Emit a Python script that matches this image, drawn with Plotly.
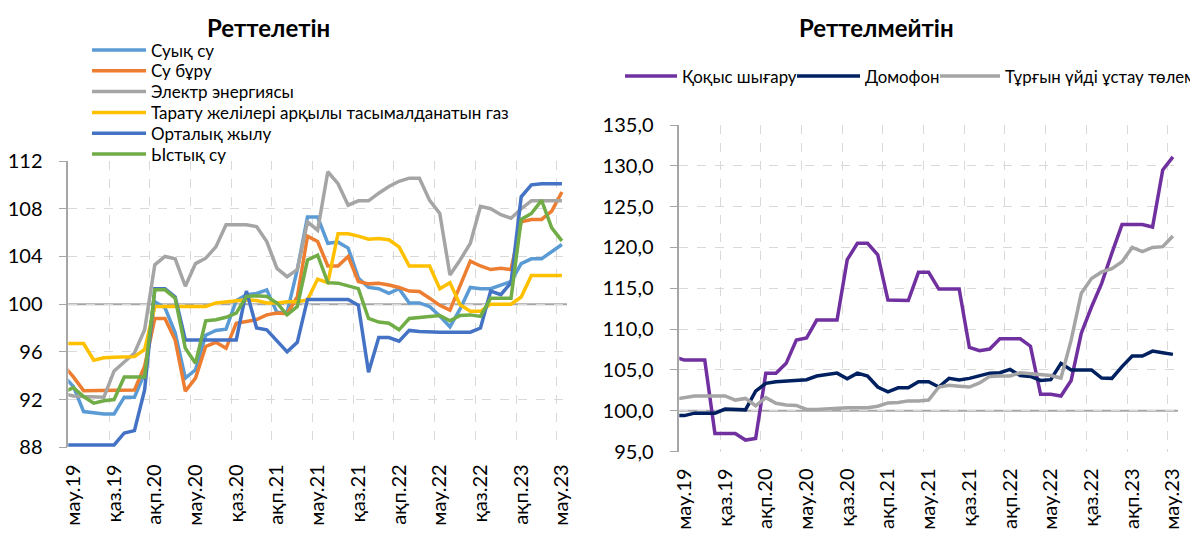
import plotly.graph_objects as go

W, H = 1190, 541
FONT = "Lato, Carlito, Calibri, sans-serif"

# month index: 0 = May 2019 ... 49 = Jun 2023
month_idx = list(range(50))
tick_labels = ["мау.19", "қаз.19", "ақп.20", "мау.20", "қаз.20", "ақп.21", "мау.21",
               "қаз.21", "ақп.22", "мау.22", "қаз.22", "ақп.23", "мау.23"]

# Реттелетін
suyk_su = [94.0, 93.1, 91.0, 90.9, 90.8, 90.8, 92.2, 92.2, 94.2, 100.2,
           99.7, 97.6, 93.8, 94.5, 97.4, 97.8, 97.9, 100.3, 100.8, 100.9,
           101.2, 99.3, 99.3, 102.9, 107.3, 107.3, 105.1, 105.2, 104.7, 102.2,
           101.4, 101.3, 100.9, 101.3, 100.1, 100.1, 99.8, 99.0, 98.1, 99.6,
           101.4, 101.3, 101.3, 101.6, 101.9, 103.4, 103.8, 103.8, 104.4, 105.0]
su_buru = [94.9, 93.9, 92.75, 92.75, 92.8, 92.8, 92.8, 92.8, 94.8, 98.8,
           98.8, 97.0, 92.7, 93.8, 96.45, 96.8, 96.3, 98.4, 98.55, 98.7,
           99.1, 99.25, 99.2, 100.6, 105.7, 105.25, 103.2, 103.2, 104.0, 101.9,
           101.7, 101.75, 101.6, 101.4, 101.1, 101.06, 100.5, 99.9, 99.5, 101.5,
           103.6, 103.2, 102.9, 103.0, 102.9, 106.9, 107.1, 107.1, 107.8, 109.4]
elektr = [92.5, 92.3, 92.25, 92.2, 92.2, 94.4, 95.2, 95.9, 97.85, 103.3,
          104.0, 103.8, 101.5, 103.4, 103.85, 104.8, 106.65, 106.65, 106.65, 106.5,
          105.25, 103.0, 102.3, 102.9, 106.9, 106.2, 111.1, 110.1, 108.3, 108.66,
          108.66, 109.3, 109.86, 110.3, 110.56, 110.56, 108.7, 107.6, 102.45, 103.7,
          105.1, 108.2, 108.0, 107.5, 107.2, 108.0, 108.66, 108.66, 108.66, 108.66]
gaz = [96.7, 96.7, 96.7, 95.3, 95.5, 95.55, 95.6, 95.6, 96.2, 99.8,
       99.8, 99.8, 99.8, 99.8, 99.8, 100.1, 100.2, 100.3, 100.36, 100.3,
       100.1, 100.1, 100.2, 100.2, 100.36, 102.1, 101.8, 105.9, 105.9, 105.7,
       105.45, 105.5, 105.4, 104.8, 103.2, 103.2, 103.2, 101.3, 101.8, 99.95,
       99.4, 99.4, 100.0, 100.0, 100.0, 100.6, 102.4, 102.4, 102.4, 102.4]
ortalyk_zhylu = [88.2, 88.2, 88.2, 88.2, 88.2, 88.2, 89.2, 89.4, 92.8, 101.3,
                 101.3, 100.6, 97.0, 97.0, 97.0, 97.0, 97.0, 97.0, 101.1, 98.0,
                 97.85, 96.9, 96.0, 96.8, 100.4, 100.4, 100.4, 100.4, 100.4, 99.9,
                 94.3, 97.2, 97.2, 96.9, 97.8, 97.7, 97.65, 97.65, 97.65, 97.65,
                 97.65, 98.0, 101.1, 100.8, 101.8, 109.0, 110.0, 110.1, 110.1, 110.1]
ystyk_su = [92.6, 93.0, 92.26, 91.7, 91.9, 92.0, 93.9, 93.9, 93.9, 101.2,
            101.2, 100.5, 96.3, 95.05, 98.6, 98.7, 98.9, 99.25, 100.65, 100.7,
            100.65, 100.1, 99.1, 99.8, 103.7, 104.1, 101.8, 101.76, 101.5, 101.3,
            98.8, 98.5, 98.4, 97.85, 98.8, 98.9, 98.97, 99.05, 98.6, 99.05,
            99.1, 98.97, 100.5, 100.5, 100.5, 107.1, 107.6, 108.7, 106.4, 105.3]

# Реттелмейтін
kokys = [106.6, 106.2, 106.2, 106.2, 97.2, 97.2, 97.2, 96.4, 96.6, 104.6,
         104.6, 105.8, 108.65, 108.9, 111.1, 111.1, 111.1, 118.5, 120.5, 120.5,
         119.1, 113.55, 113.5, 113.5, 116.95, 116.95, 114.9, 114.9, 114.9, 107.75,
         107.35, 107.55, 108.8, 108.8, 108.8, 107.9, 102.0, 102.0, 101.8, 103.7,
         109.5, 112.7, 115.6, 119.3, 122.8, 122.8, 122.8, 122.5, 129.5, 131.1]
domofon = [99.4, 99.4, 99.7, 99.7, 99.7, 100.2, 100.2, 100.1, 102.4, 103.35,
           103.55, 103.6, 103.7, 103.8, 104.25, 104.4, 104.6, 103.9, 104.6, 104.25,
           102.9, 102.3, 102.8, 102.8, 103.55, 103.55, 102.9, 103.96, 103.75, 103.96,
           104.3, 104.6, 104.65, 105.06, 104.3, 104.2, 103.7, 103.8, 105.8, 105.0,
           105.0, 105.0, 104.0, 103.96, 105.4, 106.7, 106.7, 107.3, 107.1, 106.9]
turgyn_ui = [101.4, 101.6, 101.8, 101.8, 101.8, 101.8, 101.3, 101.5, 100.6, 101.6,
             100.9, 100.7, 100.65, 100.15, 100.15, 100.25, 100.35, 100.35, 100.35, 100.35,
             100.55, 100.95, 101.0, 101.2, 101.2, 101.3, 102.9, 103.1, 103.0, 102.9,
             103.4, 104.2, 104.25, 104.25, 104.65, 104.5, 104.45, 104.3, 104.0, 108.65,
             114.4, 116.2, 117.0, 117.4, 118.25, 120.0, 119.5, 120.0, 120.1, 121.4]

left_series = [
    ("Суық су", suyk_su, "#5B9BD5"),
    ("Су бұру", su_buru, "#ED7D31"),
    ("Электр энергиясы", elektr, "#A5A5A5"),
    ("Тарату желілері арқылы тасымалданатын газ", gaz, "#FFC000"),
    ("Орталық жылу", ortalyk_zhylu, "#4472C4"),
    ("Ыстық су", ystyk_su, "#70AD47"),
]
right_series = [
    ("Қоқыс шығару", kokys, "#7030A0"),
    ("Домофон", domofon, "#002060"),
    ("Тұрғын үйді ұстау төлемі", turgyn_ui, "#A5A5A5"),
]

fig = go.Figure()
for name, vals, color in left_series:
    fig.add_trace(go.Scatter(x=month_idx, y=vals, name=name, mode="lines",
                             line=dict(color=color, width=3.5),
                             xaxis="x", yaxis="y", showlegend=False))
for name, vals, color in right_series:
    fig.add_trace(go.Scatter(x=month_idx, y=vals, name=name, mode="lines",
                             line=dict(color=color, width=3.5),
                             xaxis="x2", yaxis="y2", showlegend=False))


def fx(p):
    return p / W


def fy(p):
    return 1 - p / H


tickvals = list(range(1, 50, 4))
gridvals = [v - 0.5 for v in tickvals]

xcommon = dict(range=[0.5, 49.5], tickmode="array", tickvals=tickvals, ticktext=tick_labels,
               tickangle=-90, showgrid=False, ticks="", zeroline=False, showline=False,
               ticklabelstandoff=12, automargin=False,
               tickfont=dict(size=20, color="black", family=FONT),
               minor=dict(tickmode="array", tickvals=gridvals, showgrid=True,
                          gridcolor="#d9d9d9", griddash="dash", gridwidth=1.2))
ycommon = dict(showgrid=True, gridcolor="#d9d9d9", griddash="dash", gridwidth=1.2,
               zeroline=False, showline=True, linecolor="#a6a6a6", linewidth=1.5,
               ticks="outside", ticklen=8, tickcolor="#a6a6a6", ticklabelstandoff=12,
               automargin=False,
               tickfont=dict(size=20, color="black", family=FONT))

fig.update_layout(
    width=W, height=H,
    margin=dict(l=0, r=0, t=0, b=0, autoexpand=False),
    paper_bgcolor="white", plot_bgcolor="white",
    separators=", ",
    font=dict(family=FONT, color="black"),
    xaxis=dict(domain=[fx(68.3), fx(567)], anchor="y", **xcommon),
    yaxis=dict(domain=[fy(447.3), fy(161)], anchor="x", range=[88, 112],
               tick0=88, dtick=4, **ycommon),
    xaxis2=dict(domain=[fx(679.3), fx(1178)], anchor="y2", **xcommon),
    yaxis2=dict(domain=[fy(451.5), fy(125)], anchor="x2", range=[95, 135],
                tick0=95, dtick=5, tickformat=".1f", **ycommon),
)

# 100 reference lines
for xr, yr in (("x domain", "y"), ("x2 domain", "y2")):
    fig.add_shape(type="line", xref=xr, yref=yr, x0=0, x1=1, y0=100, y1=100,
                  line=dict(color="#a6a6a6", width=2), layer="below")

# panel titles
for text, cx in (("Реттелетін", 268), ("Реттелмейтін", 876)):
    fig.add_annotation(text=f"<b>{text}</b>", x=fx(cx), y=fy(28), xref="paper", yref="paper",
                       xanchor="center", yanchor="middle", showarrow=False,
                       font=dict(size=24, family=FONT))

# left legend (vertical)
for i, (name, _, color) in enumerate(left_series):
    yc = 50 + i * 20.8
    fig.add_shape(type="line", xref="paper", yref="paper", x0=fx(92), x1=fx(146),
                  y0=fy(yc), y1=fy(yc), line=dict(color=color, width=3.5))
    fig.add_annotation(text=name, x=fx(149), y=fy(yc), xref="paper", yref="paper",
                       xanchor="left", yanchor="middle", showarrow=False,
                       font=dict(size=17, family=FONT))

# right legend (horizontal, runs off the page as in the source)
right_leg = [(625, 677, 680), (797, 860, 863), (940, 1000, 1003)]
for (name, _, color), (l0, l1, tx) in zip(right_series, right_leg):
    fig.add_shape(type="line", xref="paper", yref="paper", x0=fx(l0), x1=fx(l1),
                  y0=fy(76), y1=fy(76), line=dict(color=color, width=3.5))
    fig.add_annotation(text=name, x=fx(tx), y=fy(76), xref="paper", yref="paper",
                       xanchor="left", yanchor="middle", showarrow=False,
                       font=dict(size=16.8, family=FONT))

fig.write_html("out.html", config={"displayModeBar": False},
               post_script="document.body.style.margin='0px';")
